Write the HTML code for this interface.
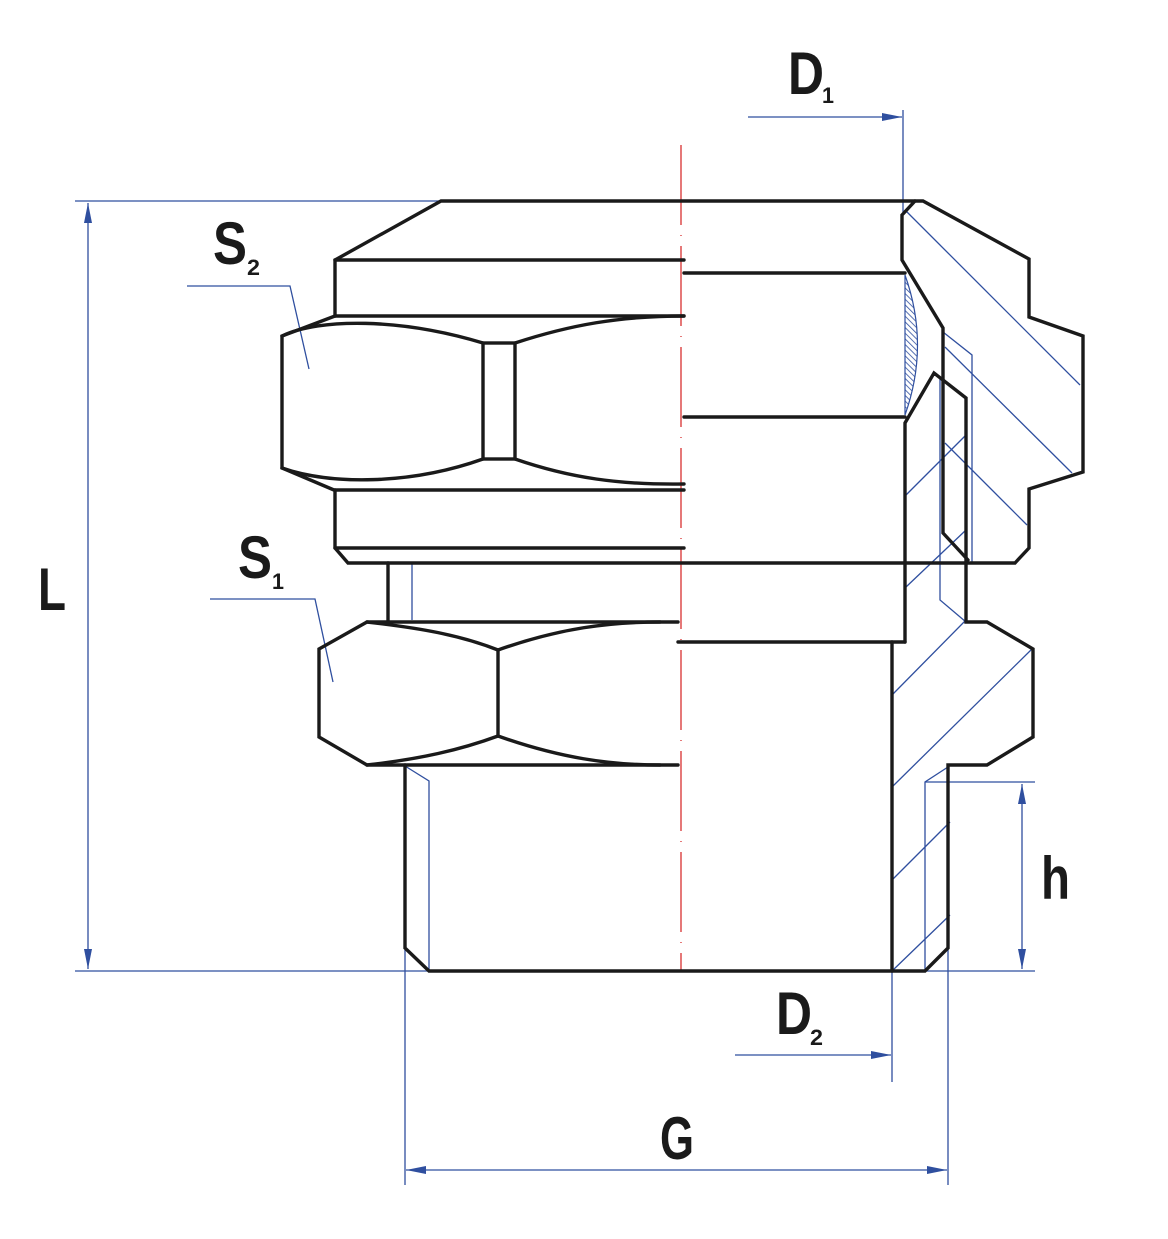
<!DOCTYPE html>
<html><head><meta charset="utf-8"><style>
html,body{margin:0;padding:0;background:#fff;}
svg{display:block}
.k{stroke:#1a1a1a;stroke-width:3.4;fill:none;stroke-linejoin:miter;stroke-linecap:round}
.b{stroke:#2f4f9f;stroke-width:1.3;fill:none}
.t{font-family:"Liberation Sans",sans-serif;font-weight:bold;fill:#1a1a1a}
</style></head><body>
<svg width="1168" height="1239" viewBox="0 0 1168 1239" xmlns="http://www.w3.org/2000/svg">
<defs>
<marker id="ar" viewBox="0 0 20 8" refX="20" refY="4" markerWidth="26" markerHeight="8" markerUnits="userSpaceOnUse" orient="auto-start-reverse"><path d="M0,0 L20,4 L0,8 Z" fill="#2f4f9f"/></marker>
<pattern id="hp" width="4" height="4" patternUnits="userSpaceOnUse" patternTransform="rotate(-45)"><line x1="0" y1="0" x2="0" y2="4" stroke="#2f4f9f" stroke-width="1.6"/></pattern>
</defs>

<line x1="681" y1="145" x2="681" y2="972" stroke="#d42020" stroke-width="1.2" stroke-dasharray="80 10 1 10"/>

<g class="b">
<line x1="75" y1="201" x2="680" y2="201"/>
<line x1="75" y1="971" x2="1035" y2="971"/>
<line x1="88" y1="203" x2="88" y2="969" marker-start="url(#ar)" marker-end="url(#ar)"/>
<line x1="903" y1="110" x2="903" y2="212"/>
<line x1="748" y1="117" x2="902" y2="117" marker-end="url(#ar)"/>
<line x1="892" y1="971" x2="892" y2="1082"/>
<line x1="735" y1="1055" x2="891" y2="1055" marker-end="url(#ar)"/>
<line x1="405" y1="950" x2="405" y2="1185"/>
<line x1="948" y1="940" x2="948" y2="1185"/>
<line x1="406" y1="1170" x2="947" y2="1170" marker-start="url(#ar)" marker-end="url(#ar)"/>
<line x1="925" y1="782" x2="1035" y2="782"/>
<line x1="1022" y1="784" x2="1022" y2="969" marker-start="url(#ar)" marker-end="url(#ar)"/>
<polyline points="948,767 925,782 925,971"/>
<polyline points="405,766 429,781 429,971"/>
<line x1="412" y1="563" x2="412" y2="620"/>
<polyline points="187,286 290,286 309,369"/>
<polyline points="210,599 315,599 333,682"/>
<line x1="905" y1="210" x2="1080" y2="385"/>
<polyline points="943,332 972,355 972,563"/>
<line x1="945" y1="347" x2="1072" y2="473"/>
<polyline points="940,377 940,600 966,622"/>
<line x1="945" y1="443" x2="1027" y2="525"/>
<line x1="906" y1="495" x2="966" y2="435"/>
<line x1="906" y1="587" x2="966" y2="530"/>
<line x1="892" y1="695" x2="965" y2="621"/>
<line x1="892" y1="787" x2="1033" y2="648"/>
<line x1="892" y1="880" x2="950" y2="822"/>
<line x1="892" y1="971" x2="950" y2="915"/>
</g>

<path d="M905,275 Q930,345 905,415 Z" fill="url(#hp)" stroke="#2f4f9f" stroke-width="1.2"/>

<g class="k">
<polyline points="335,316 335,260 441,201 923,201 1029,259 1029,317 1083,336 1083,472 1029,489 1029,548 1015,563 348,563 335,548 335,490"/>
<line x1="335" y1="260" x2="684" y2="260"/>
<line x1="335" y1="316" x2="684" y2="316"/>
<line x1="684" y1="273" x2="905" y2="273"/>
<line x1="684" y1="417" x2="905" y2="417"/>
<line x1="335" y1="490" x2="684" y2="490"/>
<line x1="335" y1="548" x2="684" y2="548"/>
<polyline points="335,316 282,336 282,468 334,490"/>
<path d="M282,336 C320,318 400,318 483,343"/>
<path d="M515,343 C570,325 620,316 684,316"/>
<path d="M282,468 C330,485 410,485 483,459"/>
<path d="M515,459 C570,478 620,485 684,484"/>
<rect x="483" y="343" width="32" height="116"/>
<polyline points="915,201 902,215 902,260 943,328 943,533 968,560"/>
<polyline points="905,642 905,423 934,373 966,398 966,622 987,622 1033,649 1033,737 987,765 948,765 948,948 925,971 429,971 405,948 405,765"/>
<line x1="892" y1="642" x2="892" y2="971"/>
<line x1="678" y1="642" x2="905" y2="642"/>
<line x1="388" y1="563" x2="388" y2="622"/>
<polyline points="678,622 367,622 319,649 319,737 367,765 678,765"/>
<line x1="498" y1="650" x2="498" y2="736"/>
<path d="M367,622 C420,628 460,635 498,650"/>
<path d="M498,650 C560,628 610,622 660,622"/>
<path d="M367,765 C420,759 460,750 498,736"/>
<path d="M498,736 C560,758 610,765 660,765"/>
</g>

<g class="t">
<text x="788" y="94" font-size="60" textLength="36" lengthAdjust="spacingAndGlyphs">D</text>
<text x="822" y="103" font-size="22" textLength="12" lengthAdjust="spacingAndGlyphs">1</text>
<text x="776" y="1034" font-size="60" textLength="36" lengthAdjust="spacingAndGlyphs">D</text>
<text x="810" y="1045" font-size="22" textLength="13" lengthAdjust="spacingAndGlyphs">2</text>
<text x="213" y="264" font-size="60" textLength="34" lengthAdjust="spacingAndGlyphs">S</text>
<text x="247" y="275" font-size="22" textLength="13" lengthAdjust="spacingAndGlyphs">2</text>
<text x="238" y="578" font-size="60" textLength="34" lengthAdjust="spacingAndGlyphs">S</text>
<text x="272" y="589" font-size="22" textLength="12" lengthAdjust="spacingAndGlyphs">1</text>
<text x="38" y="610" font-size="60" textLength="28" lengthAdjust="spacingAndGlyphs">L</text>
<text x="1041" y="899" font-size="60" textLength="29" lengthAdjust="spacingAndGlyphs">h</text>
<text x="660" y="1159" font-size="60" textLength="34" lengthAdjust="spacingAndGlyphs">G</text>
</g>
</svg>
</body></html>
